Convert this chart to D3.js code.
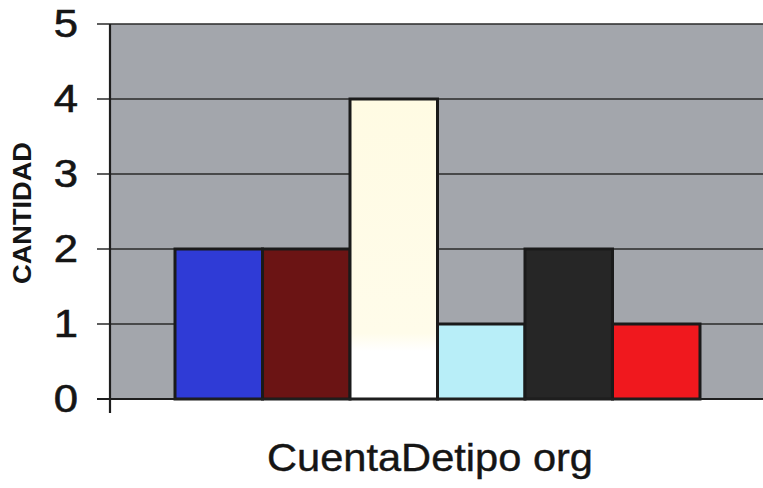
<!DOCTYPE html>
<html>
<head>
<meta charset="utf-8">
<script src="https://cdn.jsdelivr.net/npm/d3@7"></script>
<style>
  html, body { margin: 0; padding: 0; background: #ffffff; }
  svg { display: block; }
</style>
</head>
<body>
<svg id="chart" width="763" height="488"></svg>
<script>
// ---- data ----
const seriesNames = ["Serie 1", "Serie 2", "Serie 3", "Serie 4", "Serie 5", "Serie 6"];
const seriesValues = [2, 2, 4, 1, 2, 1];
const seriesColors = ["#2f3bd6", "#6b1414", "#fffde6", "#b8eef8", "#262626", "#f0181e"];
const yTicks = [0, 1, 2, 3, 4, 5];
const yTitle = "CANTIDAD";
const xTitle = "CuentaDetipo org";

// ---- layout ----
const svg = d3.select("#chart");
const plotLeft = 110, plotRight = 765, plotTop = 24, plotBottom = 399;

const x = d3.scaleBand().domain(seriesNames).range([plotLeft, plotRight])
  .paddingInner(0).paddingOuter(0.743);
const y = d3.scaleLinear().domain([0, 5]).range([plotBottom, plotTop]);

// plot background
svg.append("rect").attr("x", plotLeft).attr("y", plotTop)
  .attr("width", plotRight - plotLeft).attr("height", plotBottom - plotTop)
  .attr("fill", "#a3a6ac");

// gradient for the pale bar (cream fading to white)
const defs = svg.append("defs");
const g = defs.append("linearGradient").attr("id", "cream")
  .attr("x1", 0).attr("y1", 0).attr("x2", 0).attr("y2", 1);
g.append("stop").attr("offset", "0%").attr("stop-color", "#fffbe3");
g.append("stop").attr("offset", "78%").attr("stop-color", "#fffcea");
g.append("stop").attr("offset", "84%").attr("stop-color", "#ffffff");
g.append("stop").attr("offset", "100%").attr("stop-color", "#ffffff");

// gridlines + tick marks
svg.append("g").selectAll("line").data(yTicks).join("line")
  .attr("x1", 97).attr("x2", 763)
  .attr("y1", d => y(d)).attr("y2", d => y(d))
  .attr("stroke", "#2a2a2a").attr("stroke-width", 1.7);

// bars
svg.append("g").selectAll("rect").data(seriesNames).join("rect")
  .attr("x", d => x(d))
  .attr("y", (d, i) => y(seriesValues[i]))
  .attr("width", x.bandwidth())
  .attr("height", (d, i) => y(0) - y(seriesValues[i]))
  .attr("fill", (d, i) => i === 2 ? "url(#cream)" : seriesColors[i])
  .attr("stroke", "#1a1a1a").attr("stroke-width", 3);

// y axis line
svg.append("line").attr("x1", plotLeft).attr("x2", plotLeft)
  .attr("y1", plotTop).attr("y2", 413)
  .attr("stroke", "#1e1e1e").attr("stroke-width", 2.2);
// bottom axis line
svg.append("line").attr("x1", 97).attr("x2", 763)
  .attr("y1", plotBottom).attr("y2", plotBottom)
  .attr("stroke", "#1e1e1e").attr("stroke-width", 2.2);

// y tick labels
svg.append("g").selectAll("text").data(yTicks).join("text")
  .attr("transform", d => `translate(78,${y(d)}) scale(1.12,1)`)
  .attr("text-anchor", "end")
  .attr("dominant-baseline", "central")
  .attr("font-family", "Liberation Sans, Arial, sans-serif")
  .attr("font-size", 39)
  .attr("fill", "#151515")
  .attr("stroke", "#151515").attr("stroke-width", 0.6)
  .text(d => d);

// y title
svg.append("text")
  .attr("transform", "translate(31,213) rotate(-90)")
  .attr("text-anchor", "middle")
  .attr("font-family", "Liberation Sans, Arial, sans-serif")
  .attr("font-weight", "bold")
  .attr("font-size", 25)
  .attr("textLength", 142)
  .attr("lengthAdjust", "spacingAndGlyphs")
  .attr("fill", "#151515")
  .text(yTitle);

// x title
svg.append("text")
  .attr("x", 430).attr("y", 471)
  .attr("text-anchor", "middle")
  .attr("font-family", "Liberation Sans, Arial, sans-serif")
  .attr("font-size", 38)
  .attr("textLength", 326)
  .attr("lengthAdjust", "spacingAndGlyphs")
  .attr("fill", "#151515")
  .attr("stroke", "#151515").attr("stroke-width", 0.4)
  .text(xTitle);
</script>
</body>
</html>
